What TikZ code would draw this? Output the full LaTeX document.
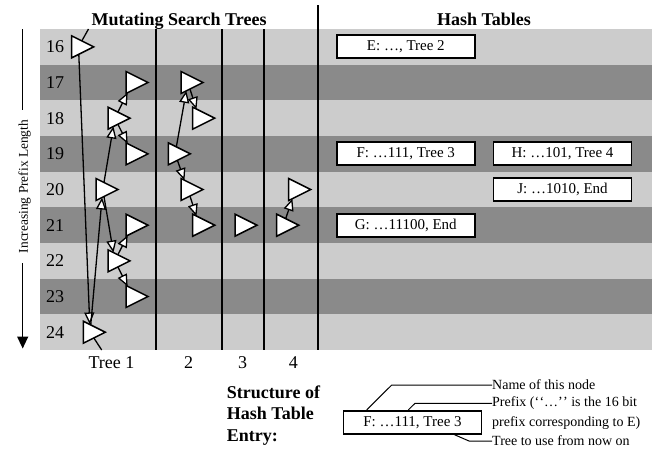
\documentclass[tikz,border=0pt]{standalone}
\usepackage{fontspec}
\setmainfont{Liberation Serif}
\usetikzlibrary{shapes.geometric,arrows.meta}
\definecolor{bandlight}{RGB}{204,204,204}
\definecolor{banddark}{RGB}{138,138,138}
\begin{document}
\begin{tikzpicture}[x=1pt,y=-1pt,
  lab/.style={font=\fontsize{18}{21}\selectfont, inner sep=0pt},
  ttl/.style={font=\fontsize{18}{21}\selectfont\bfseries, inner sep=0pt},
  hbox/.style={draw, line width=1.8pt, fill=white, minimum width=138pt, minimum height=23pt, inner sep=0pt, font=\fontsize{15}{18}\selectfont},
  tri/.style={shape=isosceles triangle, isosceles triangle stretches, minimum width=22pt, minimum height=22pt, inner sep=0pt, outer sep=0pt, draw, fill=white, line width=1.5pt, anchor=west},
  edge/.style={line width=1.3pt, -{Triangle[fill=white, length=12pt, width=10pt]}},
  plain/.style={line width=1.3pt},
  colline/.style={line width=1.8pt},
  callout/.style={line width=1pt},
  note/.style={font=\fontsize{14}{17}\selectfont, inner sep=0pt}
]
\useasboundingbox (0,0) rectangle (652,448);
% bands
\foreach \i/\c in {0/bandlight,1/banddark,2/bandlight,3/banddark,4/bandlight,5/banddark,6/bandlight,7/banddark,8/bandlight}
  \fill[\c] (40,{29+35.67*\i}) rectangle (652,{29+35.67*(\i+1)});
% column separators
\draw[colline] (155.7,29) -- (155.7,350);
\draw[colline] (221.7,29) -- (221.7,350);
\draw[colline] (264,29) -- (264,350);
\draw[colline] (318.3,5) -- (318.3,350);
% titles
\node[ttl, anchor=base] (tmst) at (179,25) {Mutating Search Trees};
\node[ttl, anchor=base] (tht) at (484,25) {Hash Tables};
% row labels
\foreach \i/\n in {0/16,1/17,2/18,3/19,4/20,5/21,6/22,7/23,8/24}
  \node[lab] (rl\n) at (55,{46.83+35.67*\i}) {\n};
% axis
\coordinate (axa) at (22.7,29);
\coordinate (axb) at (22.7,110);
\coordinate (axc) at (22.7,263);
\coordinate (axd) at (22.7,348.5);
\draw[plain] (axa) -- (axb);
\node[font=\fontsize{13.4}{16}\selectfont, inner sep=0pt, rotate=90] (axlab) at (24.5,186.5) {Increasing Prefix Length};
\draw[plain, -{Triangle[length=12pt, width=11pt]}] (axc) -- (axd);
% column labels
\node[lab] (c1) at (111.5,362.5) {Tree 1};
\node[lab] (c2) at (188.7,362.5) {2};
\node[lab] (c3) at (242.7,362.5) {3};
\node[lab] (c4) at (293.3,362.5) {4};
% tree 1
\node[tri] (t1r16) at (71.7,46.83) {};
\node[tri] (t1r17) at (126,82.5) {};
\node[tri] (t1r18) at (108,118.17) {};
\node[tri] (t1r19) at (126,153.84) {};
\node[tri] (t1r20) at (96,189.51) {};
\node[tri] (t1r21) at (126,225.18) {};
\node[tri] (t1r22) at (108,260.85) {};
\node[tri] (t1r23) at (126,296.52) {};
\node[tri] (t1r24) at (83.3,332.19) {};
% tree 2
\node[tri] (t2r17) at (181,82.5) {};
\node[tri] (t2r18) at (192.7,118.17) {};
\node[tri] (t2r19) at (168.3,153.84) {};
\node[tri] (t2r20) at (181,189.51) {};
\node[tri] (t2r21) at (192.7,225.18) {};
% tree 3
\node[tri] (t3r21) at (235,225.18) {};
% tree 4
\node[tri] (t4r20) at (288.7,189.51) {};
\node[tri] (t4r21) at (276.7,225.18) {};
% edges
\coordinate (t1in) at (88.5,29);
\coordinate (t1out) at (101.7,350);
\draw[plain] (t1in) -- (t1r16);
\draw[plain] (t1r24) -- (t1out);
\draw[edge] (t1r16) -- (t1r24);
\draw[edge] (t1r24) -- (t1r20);
\draw[edge] (t1r20) -- (t1r18);
\draw[edge] (t1r20) -- (t1r22);
\draw[edge] (t1r18) -- (t1r17);
\draw[edge] (t1r18) -- (t1r19);
\draw[edge] (t1r22) -- (t1r21);
\draw[edge] (t1r22) -- (t1r23);
\draw[edge] (t2r19) -- (t2r17);
\draw[edge] (t2r17) -- (t2r18);
\draw[edge] (t2r19) -- (t2r20);
\draw[edge] (t2r20) -- (t2r21);
\draw[edge] (t4r21) -- (t4r20);
% hash tables
\node[hbox] (hE) at (405.8,46.83) {E: …, Tree 2};
\node[hbox] (hF) at (405.8,153.84) {F: …111, Tree 3};
\node[hbox] (hH) at (562.5,153.84) {H: …101, Tree 4};
\node[hbox] (hJ) at (562.5,189.51) {J: …1010, End};
\node[hbox] (hG) at (405.8,225.18) {G: …11100, End};
% legend
\node[ttl, anchor=base west] (lg1) at (226.7,398) {Structure of};
\node[ttl, anchor=base west] (lg2) at (226.7,419.5) {Hash Table};
\node[ttl, anchor=base west] (lg3) at (226.7,441) {Entry:};
\node[hbox] (lbox) at (412.5,422.3) {F: …111, Tree 3};
\node[note, anchor=west] (nm) at (492,385) {Name of this node};
\node[note, anchor=west] (pf1) at (492,403.3) {Prefix (‘\kern0.3pt‘…’\kern0.3pt’ is the 16 bit};
\node[note, anchor=base west] (pf2) at (492,426) {prefix corresponding to E)};
\node[note, anchor=west] (tu) at (492,441) {Tree to use from now on};
\coordinate (k1) at (391.7,385);
\coordinate (k2) at (415,403.3);
\coordinate (k3) at (469,441);
\draw[callout] ([xshift=-45.8pt]lbox.north) -- (k1) -- (nm.west);
\draw[callout] ([xshift=-4.2pt]lbox.north) -- (k2) -- (pf1.west);
\draw[callout] ([xshift=42pt]lbox.south) -- (k3) -- (tu.west);
\end{tikzpicture}
\end{document}
